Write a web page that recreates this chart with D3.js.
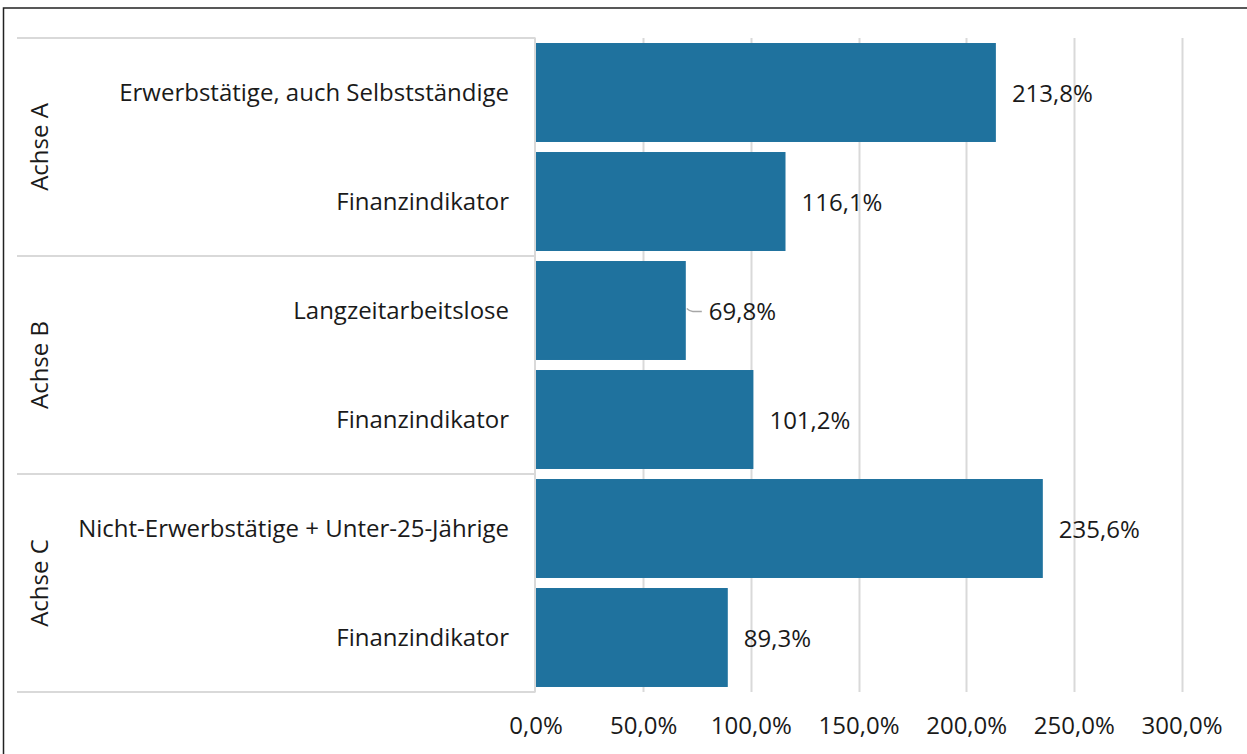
<!DOCTYPE html>
<html><head><meta charset="utf-8">
<script src="https://cdn.jsdelivr.net/npm/d3@7"></script>
<style>
html,body{margin:0;padding:0;background:#fff;}
svg{display:block;font-family:"Open Sans","Noto Sans",sans-serif;}
</style></head>
<body>
<svg id="chart" width="1247" height="754"></svg>
<script>
const groups = ["Achse A", "Achse B", "Achse C"];
const categories = ["Erwerbstätige, auch Selbstständige", "Finanzindikator", "Langzeitarbeitslose", "Finanzindikator", "Nicht-Erwerbstätige + Unter-25-Jährige", "Finanzindikator"];
const groupOf = [0, 0, 1, 1, 2, 2];
const values = [213.8, 116.1, 69.8, 101.2, 235.6, 89.3];
const tickValues = [0, 50, 100, 150, 200, 250, 300];

(function () {
const svg = d3.select("#chart");
const W = 1247, H = 754;
const plotTop = 38, plotBottom = 692, left0 = 17, x0 = 535.5;
const barColor = "#1f729e", gridColor = "#d9d9d9", textColor = "#1a1a1a";
const fs = 24;

const locale = d3.formatLocale({decimal: ",", thousands: ".", grouping: [3], currency: ["", " €"]});
const fmt = locale.format(".1f");

const x = d3.scaleLinear().domain([0, 300]).range([x0, 1181.5]);
const y = d3.scaleBand().domain(d3.range(categories.length)).range([plotTop, plotBottom])
  .paddingInner(0.092).paddingOuter(0.046);

// frame
svg.append("rect").attr("x", 3.5).attr("y", 8).attr("width", W + 10).attr("height", H + 10)
  .attr("fill", "none").attr("stroke", "#222").attr("stroke-width", 1.5);

// vertical gridlines
svg.append("g").selectAll("line").data(tickValues.slice(1)).join("line")
  .attr("x1", d => Math.round(x(d)) + 0.5).attr("x2", d => Math.round(x(d)) + 0.5)
  .attr("y1", plotTop).attr("y2", plotBottom)
  .attr("stroke", gridColor).attr("stroke-width", 2);

// group separators
const step = y.step();
const seps = d3.range(groups.length + 1).map(i => plotTop + i * 2 * step);
svg.append("g").selectAll("line").data(seps).join("line")
  .attr("x1", left0).attr("x2", x0).attr("y1", d => d).attr("y2", d => d)
  .attr("stroke", gridColor).attr("stroke-width", 2);
svg.append("line").attr("x1", x0 - 0.5).attr("x2", x0 - 0.5).attr("y1", plotTop).attr("y2", plotBottom)
  .attr("stroke", gridColor).attr("stroke-width", 2);

// bars
svg.append("g").selectAll("rect").data(values).join("rect")
  .attr("x", x(0) + 0.5).attr("y", (d, i) => y(i))
  .attr("width", d => x(d) - x(0) - 0.5).attr("height", y.bandwidth())
  .attr("fill", barColor);

// category labels
svg.append("g").selectAll("text").data(categories).join("text")
  .attr("x", 509).attr("y", (d, i) => y(i) + y.bandwidth() / 2 - 1.5)
  .attr("text-anchor", "end").attr("dominant-baseline", "central")
  .attr("font-size", fs).attr("fill", textColor).text(d => d);

// group labels
svg.append("g").selectAll("text").data(groups).join("text")
  .attr("transform", (d, i) => `translate(38,${plotTop + (i * 2 + 1) * step}) rotate(-90)`)
  .attr("text-anchor", "middle").attr("dominant-baseline", "central")
  .attr("font-size", fs).attr("fill", textColor).text(d => d);

// value labels
const leader = [false, false, true, false, false, false];
svg.append("g").selectAll("text").data(values).join("text")
  .attr("x", (d, i) => x(d) + (leader[i] ? 23 : 16))
  .attr("y", (d, i) => y(i) + y.bandwidth() / 2 - 0.5)
  .attr("dominant-baseline", "central")
  .attr("font-size", fs).attr("fill", textColor).text(d => fmt(d) + "%");

svg.append("g").selectAll("path").data(values.map((v, i) => ({v, i})).filter(d => leader[d.i])).join("path")
  .attr("d", d => {
    const xs = x(d.v) + 1, yc = y(d.i) + y.bandwidth() / 2;
    return `M${xs},${yc - 2} Q${xs + 3},${yc + 1} ${xs + 6},${yc + 1} L${xs + 15},${yc + 1}`;
  })
  .attr("fill", "none").attr("stroke", "#a6a6a6").attr("stroke-width", 1.3);

// x axis tick labels
const axis = d3.axisBottom(x).tickValues(tickValues).tickSize(0).tickPadding(0)
  .tickFormat(d => fmt(d) + "%");
const ax = svg.append("g").attr("transform", "translate(0,717)").call(axis);
ax.select(".domain").remove();
ax.selectAll("text").attr("font-size", fs).attr("fill", textColor)
  .attr("font-family", "'Open Sans','Noto Sans',sans-serif").attr("dy", "0.71em");
})();
</script>
</body></html>
